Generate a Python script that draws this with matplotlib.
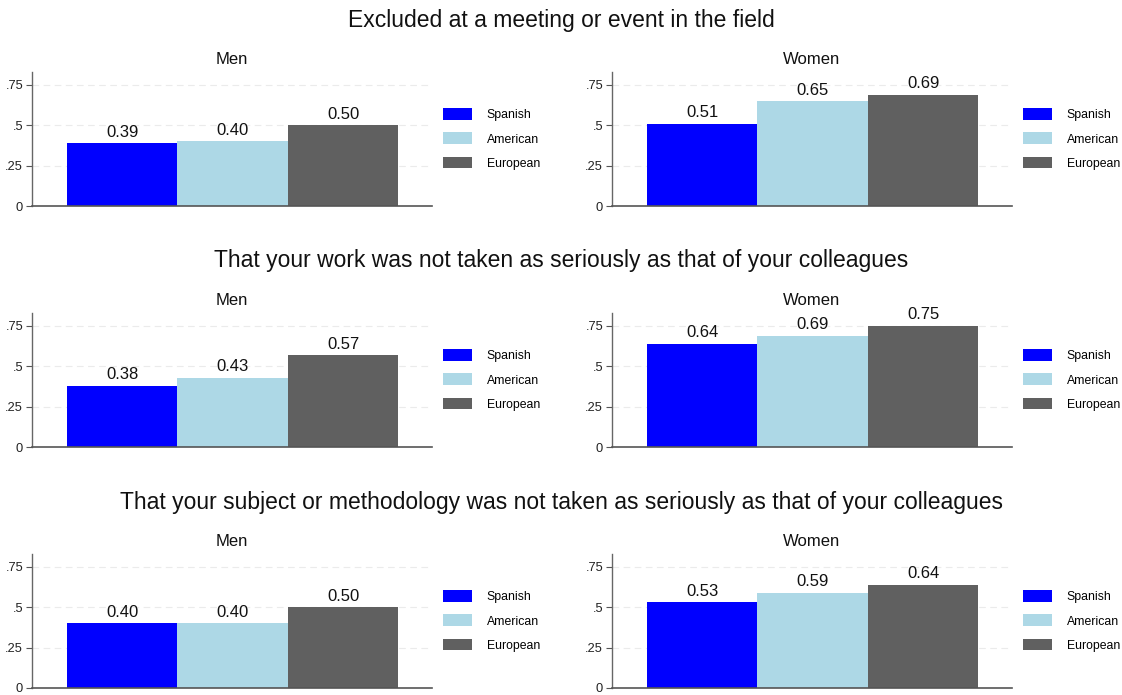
"""
Perceived exclusion by gender and origin, three survey items
"""
import matplotlib
matplotlib.use("Agg")
import matplotlib.pyplot as plt
from matplotlib.patches import Patch

plt.rcParams['font.family'] = ['Liberation Sans', 'DejaVu Sans']

groups = ["Spanish", "American", "European"]
colors = ["#0000ff", "#add8e6", "#606060"]

questions = [
	"Excluded at a meeting or event in the field",
	"That your work was not taken as seriously as that of your colleagues",
	"That your subject or methodology was not taken as seriously as that of your colleagues",
]
panels = ["Men", "Women"]

# mean share answering yes, [question][panel][group]
excluded_men = [0.39, 0.40, 0.50]
excluded_women = [0.51, 0.65, 0.69]
work_men = [0.38, 0.43, 0.57]
work_women = [0.64, 0.69, 0.75]
method_men = [0.40, 0.40, 0.50]
method_women = [0.53, 0.59, 0.64]
values = [
	[excluded_men, excluded_women],
	[work_men, work_women],
	[method_men, method_women],
]

yticks = [0, 0.25, 0.5, 0.75]
ytick_labels = ["0", ".25", ".5", ".75"]

W, H = 1122, 695
fig = plt.figure(figsize=(W / 100, H / 100), dpi=100)

ax_w, ax_h = 400, 134
lefts = [32, 612]
row_step = 241

for r, q in enumerate(questions):
	zero_y = 206 + r * row_step
	fig.text(0.5, 1 - (20 + r * row_step) / H, q, ha="center", va="center",
		fontsize=16.5, color="#111111")
	for c, panel in enumerate(panels):
		ax = fig.add_axes([(lefts[c] - 0.5) / W, 1 - zero_y / H, ax_w / W, ax_h / H])
		vals = values[r][c]
		bars = ax.bar(range(3), vals, width=1.0, color=colors, linewidth=0)
		for b, v in zip(bars, vals):
			ax.annotate(f"{v:.2f}", (b.get_x() + b.get_width() / 2, v),
				xytext=(0, 2.5), textcoords="offset points",
				ha="center", va="bottom", fontsize=12, color="#111111")
		ax.set_xlim(-0.82, 2.8)
		ax.set_ylim(0, 0.83)
		ax.set_yticks(yticks)
		ax.set_yticklabels(ytick_labels)
		ax.set_xticks([])
		ax.tick_params(axis="y", length=4, width=0.8, color="#555555",
			labelsize=9.3, labelcolor="#222222", pad=2)
		for s in ["top", "right"]:
			ax.spines[s].set_visible(False)
		ax.spines["left"].set_color("#666666")
		ax.spines["bottom"].set_color("#555555")
		ax.spines["left"].set_linewidth(1.0)
		ax.spines["bottom"].set_linewidth(1.2)
		ax.set_axisbelow(True)
		ax.grid(axis="y", color="#ebebeb", linestyle=(0, (6, 4)), linewidth=0.8)
		ax.text(0.5, 1 + 13 / ax_h, panel, transform=ax.transAxes,
			ha="center", va="center", fontsize=12, color="#111111")
		handles = [Patch(facecolor=col, edgecolor="none") for col in colors]
		ax.legend(handles, groups, loc="center left", bbox_to_anchor=(1.0, 0.5),
			frameon=False, fontsize=8.8, handlelength=2.4, handleheight=1.1,
			handletextpad=1.2, labelspacing=0.9, borderaxespad=0.5)

fig.savefig("out.png", dpi=100, facecolor="white")
